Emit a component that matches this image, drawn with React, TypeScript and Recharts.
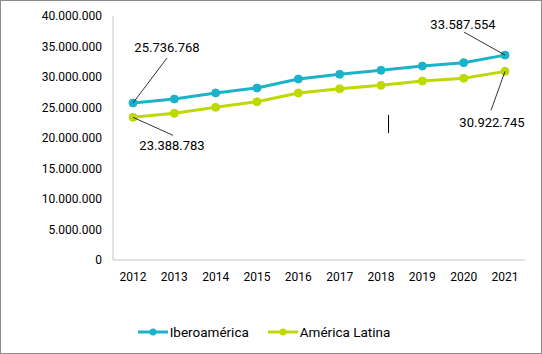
import React from 'react';
import { LineChart, Line, XAxis, YAxis, Legend } from 'recharts';

const years = ['2012', '2013', '2014', '2015', '2016', '2017', '2018', '2019', '2020', '2021'];
const iberoamerica = [25736768, 26390000, 27380000, 28200000, 29670000, 30440000, 31100000, 31800000, 32350000, 33587554];
const americaLatina = [23388783, 24050000, 25030000, 25950000, 27380000, 28080000, 28630000, 29340000, 29790000, 30922745];
const yTicks = [0, 5000000, 10000000, 15000000, 20000000, 25000000, 30000000, 35000000, 40000000];

const IBERO = '#1bb3c8';
const LATINA = '#bfd800';
const FONT = 'Roboto, Arial, sans-serif';

const data = years.map((year, i) => ({
  year,
  ibero: iberoamerica[i],
  latina: americaLatina[i],
}));

const fmt = (v: number) => v.toLocaleString('de-DE');

// label offsets for first/last point: [textDx, textDy, lineDx, lineDy]
const iberoOffsets: Record<number, number[]> = { 0: [34, -56, 34, -45], 9: [-42, -31, -41, -23] };
const latinaOffsets: Record<number, number[]> = { 0: [39, 28, 40, 18], 9: [-13, 51, -14, 39] };

const makeLabel = (offsets: Record<number, number[]>) => (props: any) => {
  const { x, y, index, value } = props;
  const o = offsets[index];
  if (!o) return null;
  return (
    <g key={`lbl-${index}`}>
      <line x1={x} y1={y} x2={x + o[2]} y2={y + o[3]} stroke="#000" strokeWidth={0.8} />
      <text
        x={x + o[0]}
        y={y + o[1]}
        textAnchor="middle"
        dominantBaseline="central"
        fontSize={13}
        fontFamily={FONT}
        fill="#000"
      >
        {fmt(value)}
      </text>
    </g>
  );
};

const renderLegend = () => (
  <div style={{ display: 'flex', justifyContent: 'center', fontFamily: FONT, fontSize: 13.5, color: '#000', height: 20, alignItems: 'center', paddingLeft: 3 }}>
    {[
      { name: 'Iberoamérica', color: IBERO },
      { name: 'América Latina', color: LATINA },
    ].map((s, i) => (
      <div key={s.name} style={{ display: 'flex', alignItems: 'center', marginLeft: i ? 19 : 0 }}>
        <svg width={30} height={10} style={{ marginRight: 2 }}>
          <line x1={0} y1={5} x2={30} y2={5} stroke={s.color} strokeWidth={3} />
          <circle cx={15} cy={5} r={3.5} fill={s.color} />
        </svg>
        <span>{s.name}</span>
      </div>
    ))}
  </div>
);

export default function App() {
  return (
    <div style={{ position: 'absolute', left: 0, top: 0, width: 542, height: 354, background: '#fff' }}>
      <div style={{ position: 'absolute', left: 0, top: 0, width: 540, height: 352, border: '1px solid #8c8c8c' }} />
      <div style={{ position: 'absolute', left: 388, top: 115, width: 1, height: 18, background: '#000' }} />
      <LineChart
        width={542}
        height={354}
        data={data}
        margin={{ top: 16, right: 17, bottom: 44, left: 0 }}
        style={{ position: 'absolute', left: 0, top: 0 }}
      >
        <XAxis
          dataKey="year"
          height={30}
          padding={{ left: 20, right: 20 }}
          tickLine={false}
          axisLine={{ stroke: '#d9d9d9', strokeWidth: 1.5 }}
          tick={{ fill: '#000', fontSize: 12, fontFamily: FONT }}
          tickMargin={6}
          interval={0}
        />
        <YAxis
          width={113}
          domain={[0, 40000000]}
          ticks={yTicks}
          tickFormatter={fmt}
          tickLine={false}
          axisLine={{ stroke: '#d9d9d9', strokeWidth: 1.5 }}
          tick={{ fill: '#000', fontSize: 12, fontFamily: FONT }}
          tickMargin={5}
          interval={0}
        />
        <Legend content={renderLegend} verticalAlign="bottom" height={20} wrapperStyle={{ bottom: 12 }} />
        <Line
          dataKey="ibero"
          name="Iberoamérica"
          stroke={IBERO}
          strokeWidth={3}
          dot={{ r: 4, fill: IBERO, stroke: IBERO, strokeWidth: 1 }}
          isAnimationActive={false}
          label={makeLabel(iberoOffsets)}
        />
        <Line
          dataKey="latina"
          name="América Latina"
          stroke={LATINA}
          strokeWidth={3}
          dot={{ r: 4, fill: LATINA, stroke: LATINA, strokeWidth: 1 }}
          isAnimationActive={false}
          label={makeLabel(latinaOffsets)}
        />
      </LineChart>
    </div>
  );
}
